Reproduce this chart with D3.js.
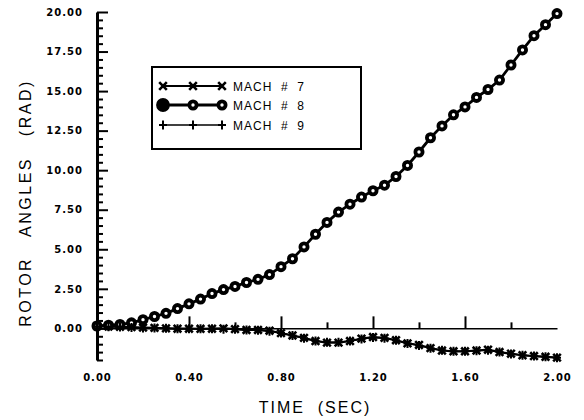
<!DOCTYPE html>
<html>
<head>
<meta charset="utf-8">
<script src="https://cdn.jsdelivr.net/npm/d3@7"></script>
<style>
  body { margin: 0; background: #fff; }
  svg { display: block; }
</style>
</head>
<body>
<div id="chart"></div>
<script>
// time steps (sec)
const time = [0.00, 0.05, 0.10, 0.15, 0.20, 0.25, 0.30, 0.35, 0.40, 0.45,
  0.50, 0.55, 0.60, 0.65, 0.70, 0.75, 0.80, 0.85, 0.90, 0.95,
  1.00, 1.05, 1.10, 1.15, 1.20, 1.25, 1.30, 1.35, 1.40, 1.45,
  1.50, 1.55, 1.60, 1.65, 1.70, 1.75, 1.80, 1.85, 1.90, 1.95, 2.00]

// rotor angles (rad)
const mach7 = [0.15, 0.12, 0.10, 0.08, 0.05, 0.03, 0.00, -0.02, -0.02, -0.03,
  -0.02, 0.00, -0.05, -0.10, -0.10, -0.15, -0.30, -0.45, -0.60, -0.80,
  -0.90, -0.90, -0.80, -0.65, -0.55, -0.60, -0.75, -0.95, -1.05, -1.25,
  -1.40, -1.45, -1.45, -1.40, -1.35, -1.50, -1.60, -1.70, -1.75, -1.80, -1.85]

const mach8 = [0.15, 0.20, 0.25, 0.35, 0.55, 0.75, 0.95, 1.25, 1.55, 1.85,
  2.20, 2.45, 2.65, 2.90, 3.10, 3.40, 3.90, 4.40, 5.15, 5.95,
  6.70, 7.35, 7.85, 8.30, 8.70, 9.05, 9.60, 10.30, 11.15, 12.05,
  12.80, 13.50, 14.00, 14.60, 15.10, 15.70, 16.65, 17.60, 18.50, 19.20, 19.90]

const mach9 = [0.12, 0.10, 0.08, 0.05, 0.03, 0.02, 0.00, -0.02, -0.03, -0.02,
  -0.03, -0.05, -0.05, -0.10, -0.12, -0.18, -0.30, -0.45, -0.62, -0.80,
  -0.88, -0.88, -0.80, -0.68, -0.58, -0.62, -0.75, -0.95, -1.08, -1.25,
  -1.38, -1.45, -1.45, -1.42, -1.38, -1.50, -1.62, -1.70, -1.75, -1.80, -1.85]

const seriesNames = ['MACH  #  7', 'MACH  #  8', 'MACH  #  9']
const xLabelTicks = [0, 0.4, 0.8, 1.2, 1.6, 2.0]
const xMajorTicks = [0.4, 0.8, 1.2, 1.6]
const xMinorTicks = [0.2, 0.6, 1.0, 1.4, 1.8]
const yMajorTicks = [0, 2.5, 5, 7.5, 10, 12.5, 15, 17.5, 20]
const yMinorTicks = d3.range(-2, 20.01, 0.5).filter(v => v % 2.5 !== 0)

const svgWidth = 584
const svgHeight = 420

const svg = d3.select('#chart')
  .append('svg')
  .attr('width', svgWidth)
  .attr('height', svgHeight)

// scales
const xScale = d3.scaleLinear()
  .domain([0, 2])
  .range([97, 557])

const yScale = d3.scaleLinear()
  .domain([-2, 20])
  .range([360, 12])

const tickFont = 'DejaVu Sans, sans-serif'
const titleFont = 'Liberation Sans, Arial, sans-serif'

////////////////////////////////////
//////////////axes//////////////////
////////////////////////////////////

// y axis: major ticks with labels, pointing inward
const yAxis = svg.append('g')
  .attr('transform', `translate(${xScale(0)},0)`)
  .call(d3.axisLeft(yScale)
    .tickValues(yMajorTicks)
    .tickSize(-11)
    .tickSizeOuter(0)
    .tickPadding(14)
    .tickFormat(d3.format('.2f')))

yAxis.select('.domain').attr('stroke-width', 3)
yAxis.selectAll('.tick line').attr('stroke-width', 2)
yAxis.selectAll('.tick text')
  .attr('font-family', tickFont)
  .attr('font-weight', 'bold')
  .attr('font-size', 10)
  .attr('letter-spacing', 1)
  .attr('fill', '#000')

const yMinor = svg.append('g')
  .attr('transform', `translate(${xScale(0)},0)`)
  .call(d3.axisLeft(yScale)
    .tickValues(yMinorTicks)
    .tickSize(-6)
    .tickSizeOuter(0)
    .tickFormat(''))
yMinor.select('.domain').remove()
yMinor.selectAll('.tick line').attr('stroke-width', 2)

// x axis drawn along zero line, ticks pointing up
const xBase = svg.append('g')
  .attr('transform', `translate(0,${yScale(0)})`)

const xLabels = xBase.append('g')
  .call(d3.axisBottom(xScale)
    .tickValues(xLabelTicks)
    .tickSize(0)
    .tickSizeOuter(0)
    .tickPadding(46)
    .tickFormat(d3.format('.2f')))
xLabels.select('.domain').attr('stroke-width', 1.5)
xLabels.selectAll('.tick text')
  .attr('font-family', tickFont)
  .attr('font-weight', 'bold')
  .attr('font-size', 10)
  .attr('letter-spacing', 1)
  .attr('fill', '#000')

const xMajor = xBase.append('g')
  .call(d3.axisBottom(xScale)
    .tickValues(xMajorTicks)
    .tickSize(-12)
    .tickSizeOuter(0)
    .tickFormat(''))
xMajor.select('.domain').remove()
xMajor.selectAll('.tick line').attr('stroke-width', 2)

const xMinor = xBase.append('g')
  .call(d3.axisBottom(xScale)
    .tickValues(xMinorTicks)
    .tickSize(-6)
    .tickSizeOuter(0)
    .tickFormat(''))
xMinor.select('.domain').remove()
xMinor.selectAll('.tick line').attr('stroke-width', 2)

// axis titles
svg.append('text')
  .attr('x', 315)
  .attr('y', 413)
  .attr('text-anchor', 'middle')
  .attr('font-family', titleFont)
  .attr('font-size', 16)
  .attr('letter-spacing', 2)
  .style('white-space', 'pre')
  .text('TIME  (SEC)')

svg.append('text')
  .attr('transform', 'translate(31,203) rotate(-90)')
  .attr('text-anchor', 'middle')
  .attr('font-family', titleFont)
  .attr('font-size', 16)
  .attr('letter-spacing', 2.5)
  .style('white-space', 'pre')
  .text('ROTOR   ANGLES   (RAD)')

////////////////////////////////////
//////////////markers///////////////
////////////////////////////////////

function drawX(g, cx, cy) {
  g.append('path')
    .attr('d', `M${cx - 3.8},${cy - 3.8}L${cx + 3.8},${cy + 3.8}M${cx - 3.8},${cy + 3.8}L${cx + 3.8},${cy - 3.8}`)
    .attr('stroke', '#000')
    .attr('stroke-width', 2.6)
}

function drawPlus(g, cx, cy) {
  g.append('path')
    .attr('d', `M${cx},${cy - 4.5}L${cx},${cy + 4.5}M${cx - 4},${cy}L${cx + 4},${cy}`)
    .attr('stroke', '#000')
    .attr('stroke-width', 2)
}

function drawCircle(g, cx, cy, filled) {
  g.append('circle')
    .attr('cx', cx)
    .attr('cy', cy)
    .attr('r', filled ? 5 : 3.6)
    .attr('fill', filled ? '#000' : '#fff')
    .attr('stroke', '#000')
    .attr('stroke-width', 3.8)
}

////////////////////////////////////
//////////////lines/////////////////
////////////////////////////////////

const line = d3.line()
  .x(d => xScale(d[0]))
  .y(d => yScale(d[1]))

const series = [
  { name: seriesNames[0], values: mach7, marker: drawX, width: 2.2 },
  { name: seriesNames[1], values: mach8, marker: drawCircle, width: 2.8 },
  { name: seriesNames[2], values: mach9, marker: drawPlus, width: 1.5 }
]

series.forEach(s => {
  const pts = time.map((t, i) => [t, s.values[i]])
  svg.append('path')
    .datum(pts)
    .attr('d', line)
    .attr('fill', 'none')
    .attr('stroke', '#000')
    .attr('stroke-width', s.width)
  const g = svg.append('g')
  pts.forEach(p => s.marker(g, xScale(p[0]), yScale(p[1]), false))
})

////////////////////////////////////
//////////////legend////////////////
////////////////////////////////////

const legend = svg.append('g')

legend.append('rect')
  .attr('x', 152)
  .attr('y', 67)
  .attr('width', 209)
  .attr('height', 82)
  .attr('fill', '#fff')
  .attr('stroke', '#000')
  .attr('stroke-width', 2)

const rowY = [86, 105, 125]
const markX = [163, 193, 222]

series.forEach((s, i) => {
  const cy = rowY[i]
  legend.append('line')
    .attr('x1', markX[0]).attr('x2', markX[2])
    .attr('y1', cy).attr('y2', cy)
    .attr('stroke', '#000')
    .attr('stroke-width', s.width)
  markX.forEach((mx, j) => s.marker(legend, mx, cy, j === 0))
  legend.append('text')
    .attr('x', 233)
    .attr('y', cy + 4.5)
    .attr('font-family', titleFont)
    .attr('font-size', 12)
    .attr('letter-spacing', 1)
    .style('white-space', 'pre')
    .text(s.name)
})
</script>
</body>
</html>
